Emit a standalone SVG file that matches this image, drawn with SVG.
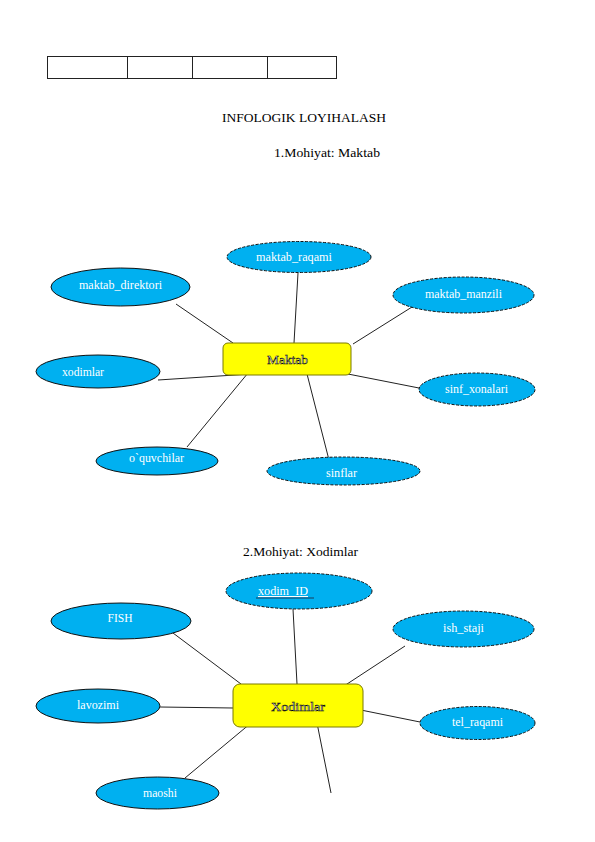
<svg xmlns="http://www.w3.org/2000/svg" width="595" height="842" viewBox="0 0 595 842">
<style>
.bg{fill:#fff}
.tbl{fill:none;stroke:#222;stroke-width:1}
.ttl{font-family:"Liberation Serif",serif;fill:#000;font-size:12px}
.at{fill:#00B0F0;stroke:#111;stroke-width:1}
.dash{stroke-dasharray:3 1.5}
.at-t{font-family:"Liberation Serif",serif;fill:#fff;font-size:11.5px;text-anchor:middle}
.ent{fill:#FFFF00;stroke:#7a7a00;stroke-width:1}
.ent-t{font-family:"Liberation Serif",serif;fill:#fff;stroke:#000;stroke-width:0.5;font-size:13px;text-anchor:middle}
.conn line{stroke:#222;stroke-width:1}
</style>
<rect class="bg" x="0" y="0" width="595" height="842"/>
<g id="table">
<rect class="tbl" x="47.5" y="56.5" width="289" height="22"/>
<line class="tbl" x1="127.5" y1="56.5" x2="127.5" y2="78.5"/>
<line class="tbl" x1="192.5" y1="56.5" x2="192.5" y2="78.5"/>
<line class="tbl" x1="267.5" y1="56.5" x2="267.5" y2="78.5"/>
</g>
<g id="titles">
<text class="ttl" x="222" y="122" font-size="13" textLength="164" lengthAdjust="spacingAndGlyphs">INFOLOGIK LOYIHALASH</text>
<text class="ttl" x="274" y="157" textLength="106" lengthAdjust="spacingAndGlyphs">1.Mohiyat: Maktab</text>
<text class="ttl" x="243" y="556" textLength="115" lengthAdjust="spacingAndGlyphs">2.Mohiyat: Xodimlar</text>
</g>
<g id="connectors" class="conn">
<line x1="298" y1="273" x2="294" y2="343"/>
<line x1="176" y1="304" x2="233" y2="343"/>
<line x1="412" y1="307" x2="353" y2="344"/>
<line x1="348" y1="374" x2="419" y2="388"/>
<line x1="158" y1="380" x2="250" y2="374"/>
<line x1="187" y1="447" x2="248" y2="373"/>
<line x1="307" y1="374" x2="329" y2="460"/>
<line x1="293" y1="609" x2="297" y2="684"/>
<line x1="173" y1="633" x2="241" y2="684"/>
<line x1="405" y1="646" x2="344" y2="686"/>
<line x1="351" y1="708" x2="420" y2="722"/>
<line x1="160" y1="707" x2="233" y2="708"/>
<line x1="185" y1="778" x2="251" y2="723"/>
<line x1="317" y1="723" x2="331" y2="793"/>
</g>
<g id="maktab">
<rect class="ent" x="223" y="343" width="128" height="32" rx="5"/>
<text class="ent-t" x="287.5" y="363.5" textLength="41" lengthAdjust="spacingAndGlyphs">Maktab</text>
</g>
<g id="maktab_raqami">
<ellipse class="at dash" cx="299" cy="257" rx="72" ry="15.5"/>
<text class="at-t" x="294" y="261" textLength="76" lengthAdjust="spacingAndGlyphs">maktab_raqami</text>
</g>
<g id="maktab_direktori">
<ellipse class="at" cx="120.5" cy="287" rx="69.5" ry="19"/>
<text class="at-t" x="120.5" y="289" textLength="83" lengthAdjust="spacingAndGlyphs">maktab_direktori</text>
</g>
<g id="maktab_manzili">
<ellipse class="at dash" cx="463.5" cy="295" rx="70.5" ry="18"/>
<text class="at-t" x="463.5" y="298" textLength="77" lengthAdjust="spacingAndGlyphs">maktab_manzili</text>
</g>
<g id="sinf_xonalari">
<ellipse class="at dash" cx="477" cy="389.5" rx="58" ry="16.5"/>
<text class="at-t" x="476.5" y="393" textLength="63" lengthAdjust="spacingAndGlyphs">sinf_xonalari</text>
</g>
<g id="xodimlar">
<ellipse class="at" cx="98" cy="371.5" rx="62" ry="16.5"/>
<text class="at-t" x="83" y="376" textLength="42" lengthAdjust="spacingAndGlyphs">xodimlar</text>
</g>
<g id="oquvchilar">
<ellipse class="at" cx="157" cy="461" rx="61" ry="14"/>
<text class="at-t" x="156.5" y="462" textLength="55" lengthAdjust="spacingAndGlyphs">o`quvchilar</text>
</g>
<g id="sinflar">
<ellipse class="at dash" cx="343.5" cy="471" rx="76.5" ry="14"/>
<text class="at-t" x="341.5" y="477" textLength="31" lengthAdjust="spacingAndGlyphs">sinflar</text>
</g>
<g id="xodimlar_ent">
<rect class="ent" x="233" y="684" width="130" height="43" rx="7"/>
<text class="ent-t" x="298" y="711" textLength="54" lengthAdjust="spacingAndGlyphs">Xodimlar</text>
</g>
<g id="xodim_ID">
<ellipse class="at dash" cx="299" cy="591" rx="73" ry="18"/>
<text class="at-t" x="283" y="595" textLength="50" lengthAdjust="spacingAndGlyphs" text-decoration="underline">xodim_ID</text>
<line x1="256" y1="598" x2="314" y2="598" stroke="#1a3a5a" stroke-width="1"/>
</g>
<g id="FISH">
<ellipse class="at" cx="121" cy="621" rx="70" ry="18"/>
<text class="at-t" x="120" y="622" textLength="25" lengthAdjust="spacingAndGlyphs">FISH</text>
</g>
<g id="ish_staji">
<ellipse class="at dash" cx="463.5" cy="629" rx="70.5" ry="18"/>
<text class="at-t" x="463.5" y="632" textLength="41" lengthAdjust="spacingAndGlyphs">ish_staji</text>
</g>
<g id="tel_raqami">
<ellipse class="at dash" cx="477.5" cy="723" rx="57.5" ry="16.5"/>
<text class="at-t" x="477.5" y="726" textLength="51" lengthAdjust="spacingAndGlyphs">tel_raqami</text>
</g>
<g id="lavozimi">
<ellipse class="at" cx="98" cy="706" rx="62" ry="17"/>
<text class="at-t" x="98" y="709" textLength="42" lengthAdjust="spacingAndGlyphs">lavozimi</text>
</g>
<g id="maoshi">
<ellipse class="at" cx="157.5" cy="793" rx="61.5" ry="16"/>
<text class="at-t" x="160" y="797" textLength="34" lengthAdjust="spacingAndGlyphs">maoshi</text>
</g>
</svg>
